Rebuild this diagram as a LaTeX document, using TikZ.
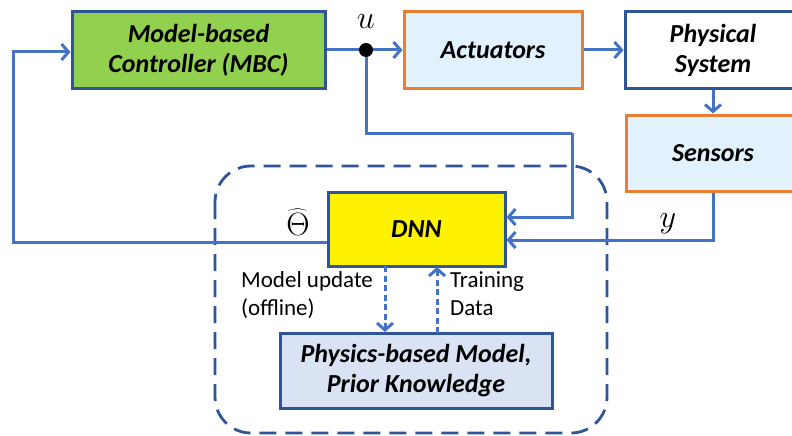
\documentclass[tikz,border=0pt]{standalone}
\usepackage{fontspec}
\usepackage{graphicx}
\setmainfont{Carlito}
\usetikzlibrary{arrows.meta}
\definecolor{lineblue}{HTML}{4472C4}
\definecolor{darkblue}{HTML}{2F5597}
\definecolor{mbcgreen}{HTML}{92D050}
\definecolor{orng}{HTML}{ED7D31}
\definecolor{lightblue}{HTML}{E1F2FD}
\definecolor{physfill}{HTML}{DAE3F3}
\begin{document}
\begin{tikzpicture}[x=1pt,y=-1pt,
  box/.style={draw, line width=3pt, align=center, inner sep=0pt,
    font=\fontsize{26}{30}\selectfont\bfseries\itshape},
  conn/.style={draw=lineblue, line width=3pt},
  arr/.style={conn, -{Straight Barb[length=7pt,width=16pt,line width=3pt]}},
  darr/.style={arr, dashed, dash pattern=on 6pt off 3.5pt},
  lbl/.style={font=\fontsize{23}{28}\selectfont, align=left, inner sep=0pt},
  mlbl/.style={font=\fontsize{23}{28}\selectfont, inner sep=0pt}]
\useasboundingbox (0,0) rectangle (792,436);
\draw[darkblue, line width=2.8pt, dashed, dash pattern=on 17pt off 9pt, rounded corners=36pt]
  (215,166) rectangle (607,433);
\node[box, draw=darkblue, fill=mbcgreen, minimum width=253pt, minimum height=76pt] (mbc) at (198.5,50) {Model-based\\Controller (MBC)};
\node[box, draw=orng, fill=lightblue, minimum width=178pt, minimum height=76pt] (act) at (493,50) {Actuators};
\node[box, draw=darkblue, fill=white, minimum width=176pt, minimum height=76pt] (phys) at (713,50) {Physical\\System};
\node[box, draw=orng, fill=lightblue, minimum width=174pt, minimum height=76pt] (sens) at (713,153) {Sensors};
\node[box, draw=darkblue, fill=yellow, minimum width=177pt, minimum height=74pt] (dnn) at (416.5,229) {DNN};
\node[box, draw=darkblue, fill=physfill, minimum width=272pt, minimum height=75pt] (pbm) at (416,370.5) {Physics-based Model,\\Prior Knowledge};
\coordinate (j) at (366,50);
\coordinate (jd) at (366,133);
\coordinate (jr) at (572,133);
\coordinate (ll) at (13,242);
\coordinate (lu) at (13,52);
\coordinate (sd) at (713,240);
\draw[conn] (mbc.east |- j) -- (j);
\draw[arr] (j) -- (act.west |- j);
\draw[conn] (j) -- (jd) -- (jr);
\draw[arr] (jr) -- (572,217) -- (dnn.east |- 0,217);
\draw[arr] (act.east |- 0,50) -- (phys.west |- 0,50);
\draw[arr] (phys.south) -- (sens.north);
\draw[arr] (sens.south) -- (sd) -- (dnn.east |- sd);
\draw[arr] (dnn.west |- ll) -- (ll) -- (lu) -- (mbc.west |- lu);
\draw[darr] (385,266) -- (385,332);
\draw[darr] (437,333) -- (437,267);
\fill[black] (j) circle (7pt);
\node[mlbl] (ulbl) at (366,22) {\scalebox{1.3}{$u$}};
\node[mlbl] (ylbl) at (668,224) {\scalebox{1.3}{$y$}};
\node[mlbl] (thlbl) at (298,222) {\scalebox{1.3}{$\widehat{\Theta}$}};
\node[lbl, anchor=north west] (mu) at (241,271) {Model update\\(offline)};
\node[lbl, anchor=north west] (td) at (450,271) {Training\\Data};
\end{tikzpicture}
\end{document}
